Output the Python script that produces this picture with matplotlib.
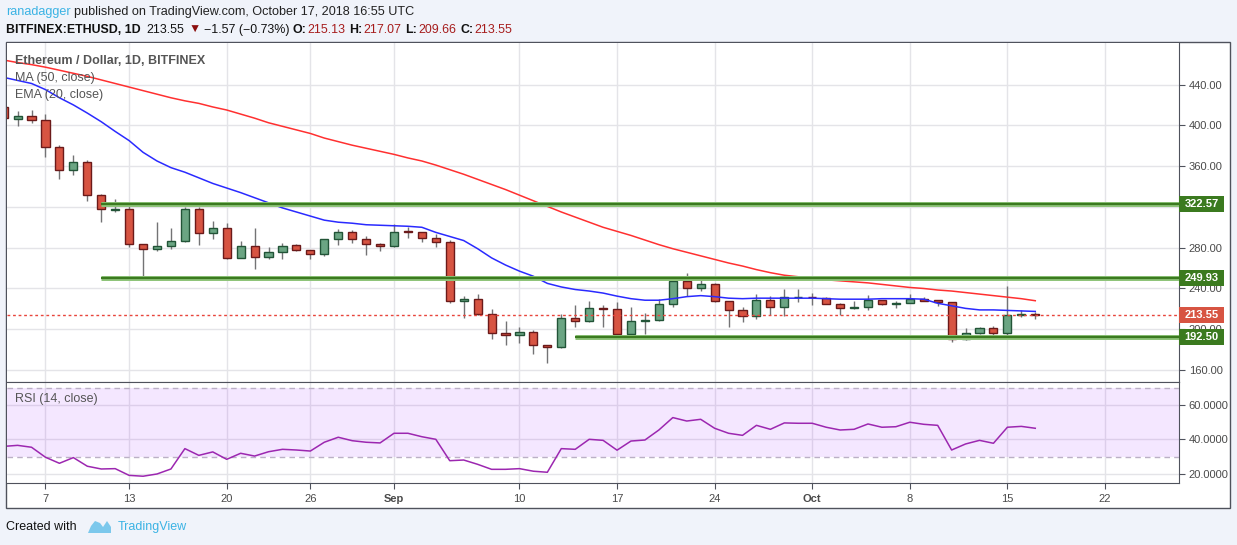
import numpy as np
import pandas as pd
import matplotlib
matplotlib.use("Agg")
import matplotlib.pyplot as plt
import matplotlib.dates as mdates
from matplotlib.patches import Rectangle, Polygon
from matplotlib.transforms import blended_transform_factory

plt.rcParams['font.family'] = ['Liberation Sans', 'DejaVu Sans']

W, H = 1237, 545

# --- data (Aug 4 .. Oct 17 2018, daily) ---
dates = pd.date_range("2018-08-04", "2018-10-17", freq="D")

opens = [418.2, 406.5, 408.8, 404.9, 378.4, 355.9, 363.7, 331.4, 317.2, 318.0,
         283.3, 278.4, 281.4, 286.3, 317.6, 294.1, 299.0, 270.2, 281.4, 270.6,
         275.5, 282.3, 277.5, 274.1, 288.2, 295.1, 288.2, 283.9, 281.4, 295.6,
         295.1, 289.2, 285.3, 227.5, 229.4, 214.7, 196.1, 194.7, 197.4, 184.3,
         182.4, 210.8, 207.8, 220.8, 220.2, 195.1, 207.8, 208.8, 224.5, 247.1,
         240.2, 244.1, 227.5, 218.6, 213.3, 228.4, 221.6, 231.2, 231.8, 231.0,
         225.1, 220.6, 221.6, 228.4, 224.5, 225.8, 229.4, 228.4, 226.5, 190.2,
         196.1, 201.0, 196.1, 213.7, 215.13]
highs = [420.5, 414.0, 415.0, 411.1, 380.4, 370.6, 365.7, 332.6, 327.5, 323.1,
         283.8, 305.2, 299.3, 319.6, 320.2, 305.9, 303.9, 286.3, 299.0, 280.4,
         284.3, 283.2, 278.0, 289.0, 298.3, 297.4, 291.5, 284.5, 303.2, 300.3,
         295.6, 293.4, 287.5, 232.4, 234.3, 219.9, 207.8, 202.3, 199.3, 184.6,
         215.0, 223.8, 227.7, 223.8, 226.5, 221.9, 215.7, 229.7, 252.3, 255.5,
         249.0, 245.1, 228.0, 222.2, 234.3, 232.9, 239.2, 239.2, 235.6, 231.5,
         225.5, 227.5, 233.3, 228.8, 227.5, 234.3, 231.4, 228.8, 227.0, 201.3,
         202.3, 203.2, 242.5, 218.9, 217.07]
lows = [405.0, 399.6, 402.0, 369.2, 347.1, 351.6, 326.1, 305.5, 314.7, 281.0,
        250.0, 277.1, 278.4, 285.8, 282.4, 288.5, 269.2, 269.6, 259.4, 268.6,
        269.2, 276.5, 269.2, 271.9, 282.9, 284.9, 273.1, 277.1, 280.9, 289.8,
        285.9, 281.0, 226.1, 211.4, 214.0, 190.2, 184.9, 186.9, 176.1, 167.3,
        182.0, 202.5, 207.3, 202.5, 192.7, 194.8, 195.7, 208.3, 221.6, 233.0,
        237.3, 227.0, 202.5, 207.5, 210.4, 214.3, 212.7, 226.5, 224.1, 224.8,
        214.3, 220.0, 219.2, 223.5, 220.6, 225.3, 227.5, 223.1, 187.8, 189.5,
        195.5, 193.7, 194.7, 211.8, 209.66]
closes = [406.9, 408.8, 404.9, 378.4, 355.9, 363.7, 331.4, 317.6, 318.0, 283.3,
          278.4, 281.4, 286.3, 317.6, 294.1, 299.0, 270.2, 281.4, 270.6, 275.5,
          281.4, 277.5, 274.1, 288.2, 295.1, 288.2, 283.9, 281.4, 295.1, 295.1,
          289.2, 285.3, 227.5, 229.4, 214.7, 196.1, 194.7, 197.4, 184.3, 182.4,
          210.8, 207.8, 220.6, 220.2, 195.1, 207.8, 208.8, 224.5, 247.1, 240.2,
          244.1, 227.5, 218.6, 213.3, 228.4, 221.6, 231.4, 231.8, 231.2, 225.1,
          220.6, 221.6, 228.7, 224.5, 225.8, 229.4, 228.0, 226.5, 190.2, 196.1,
          201.0, 196.1, 213.7, 215.1, 213.55]

ma50 = [464.0, 461.5, 459.5, 457.0, 454.0, 451.0, 448.0, 444.5, 441.0, 437.5,
        434.0, 430.5, 427.0, 424.0, 421.5, 418.0, 415.0, 411.0, 407.0, 402.5,
        399.0, 395.5, 392.0, 387.5, 384.0, 380.5, 377.5, 374.5, 371.5, 368.0,
        365.0, 361.0, 356.5, 352.0, 347.0, 342.0, 337.0, 331.5, 326.0, 320.5,
        315.0, 310.0, 305.0, 300.0, 296.0, 292.0, 287.5, 283.0, 279.0, 275.5,
        272.0, 268.5, 265.0, 262.0, 258.5, 255.5, 253.0, 251.5, 249.5, 248.5,
        247.5, 246.5, 245.5, 244.0, 242.5, 241.0, 240.0, 238.5, 237.5, 236.0,
        234.5, 233.0, 231.5, 230.0, 228.0]
ema20 = [447.0, 444.0, 441.0, 435.0, 427.0, 420.0, 412.0, 403.5, 394.0, 385.0,
         373.5, 365.0, 358.5, 354.0, 348.5, 343.0, 338.5, 334.0, 329.0, 324.0,
         319.0, 315.0, 311.0, 307.0, 305.0, 304.0, 302.5, 302.0, 301.5, 301.0,
         300.0, 295.0, 291.0, 287.0, 279.0, 270.0, 263.0, 257.0, 252.0, 245.0,
         241.5, 239.0, 237.5, 235.5, 232.5, 230.0, 228.5, 228.5, 230.0, 232.0,
         233.0, 232.0, 230.5, 230.0, 230.5, 230.5, 230.5, 230.5, 230.5, 230.0,
         229.5, 229.5, 229.5, 230.0, 230.0, 230.0, 229.5, 225.5, 223.0, 220.5,
         219.0, 219.0, 218.5, 218.0, 217.5]
rsi = [36.0, 36.6, 35.5, 29.7, 26.2, 29.5, 24.5, 22.9, 23.1, 19.2,
       18.7, 20.0, 22.9, 34.7, 30.8, 32.8, 28.5, 32.0, 30.4, 32.9,
       34.3, 33.9, 33.3, 38.4, 41.3, 39.3, 38.4, 38.0, 43.6, 43.6,
       41.6, 40.1, 27.7, 28.1, 25.6, 22.7, 22.7, 23.1, 21.6, 21.0,
       34.7, 34.3, 40.1, 39.5, 33.8, 39.1, 39.7, 45.5, 52.7, 50.7,
       51.7, 46.5, 43.6, 42.4, 48.2, 45.9, 49.6, 49.4, 49.4, 47.1,
       45.5, 45.9, 49.0, 47.1, 47.4, 50.0, 48.8, 48.2, 33.9, 37.4,
       39.5, 37.8, 47.1, 47.6, 46.5]

levels = [322.57, 249.93, 192.50]
level_starts = ["2018-08-11", "2018-08-11", "2018-09-14"]
last_price = 213.55

tick_dates = ["2018-08-07", "2018-08-13", "2018-08-20", "2018-08-26", "2018-09-01",
              "2018-09-10", "2018-09-17", "2018-09-24", "2018-10-01", "2018-10-08",
              "2018-10-15", "2018-10-22"]
tick_labels = ["7", "13", "20", "26", "Sep", "10", "17", "24", "Oct", "8", "15", "22"]
price_ticks = [160, 200, 240, 280, 320, 360, 400, 440]
hidden_price_ticks = [320]   # fully covered by the 322.57 label in the original
rsi_ticks = [20, 40, 60]

# --- helpers: pixel -> figure fraction ---
def fx(px):
    return px / W

def fy(py):
    return 1 - py / H

FRAME = '#4f525c'
GRID = '#e4e4e8'
TXT = '#4a4a4a'

fig = plt.figure(figsize=(W / 100, H / 100), dpi=100, facecolor='#f0f3fa')
fig.patches.append(Rectangle((fx(6), fy(508)), fx(1230) - fx(6), fy(42) - fy(508),
                             transform=fig.transFigure, facecolor='white',
                             edgecolor=FRAME, lw=1, zorder=-1))

ax1 = fig.add_axes([fx(7), fy(381.7), fx(1179) - fx(7), fy(43) - fy(381.7)])
ax2 = fig.add_axes([fx(7), fy(483.3), fx(1179) - fx(7), fy(381.7) - fy(483.3)], sharex=ax1)

x = mdates.date2num(dates)
base = mdates.date2num(pd.Timestamp("2018-08-07"))
o = np.array(opens); c = np.array(closes)
h = np.array(highs); l = np.array(lows)
up = c >= o

# --- price panel ---
ax1.vlines(x, l, h, color='#737375', lw=1, zorder=3)
body_b = np.minimum(o, c)
body_h = np.maximum(np.abs(c - o), 0.8)
ax1.bar(x, body_h, bottom=body_b, width=0.58,
        color=np.where(up, '#6ba583', '#d75442'),
        edgecolor=np.where(up, '#225437', '#6b1a1a'), linewidth=1, zorder=4)

ax1.plot(x, ma50, color='#ff3030', lw=1.1, zorder=5)
ax1.plot(x, ema20, color='#2a2aff', lw=1.1, zorder=5)

xmax = base + 81.31
for lv, st in zip(levels, level_starts):
    xs = mdates.date2num(pd.Timestamp(st))
    ax1.hlines(lv, xs, xmax, color='#8fc47a', lw=3.6, zorder=6)
    ax1.hlines(lv, xs, xmax, color='#3b7a1f', lw=1.6, zorder=6)

ax1.axhline(last_price, color='#e8453c', lw=1, ls=(0, (2, 2)), zorder=6)

ax1.set_xlim(base - 2.76, xmax)
ax1.set_ylim(148.6, 480.7)
ax1.yaxis.tick_right()
ax1.set_yticks(price_ticks)
ax1.set_yticklabels(["" if v in hidden_price_ticks else f"{v:.2f}" for v in price_ticks])
ax1.set_xticks(mdates.date2num(pd.to_datetime(tick_dates)))
ax1.tick_params(axis='x', length=0, labelbottom=False)
ax1.tick_params(axis='y', colors=FRAME, labelcolor=TXT, labelsize=8, length=4, pad=3)
ax1.grid(True, color=GRID, lw=1)
ax1.set_axisbelow(True)
for s in ['top', 'left']:
    ax1.spines[s].set_visible(False)
for s in ['right', 'bottom']:
    ax1.spines[s].set_color(FRAME)

# axis labels for the levels
tr = blended_transform_factory(ax1.transAxes, ax1.transData)
bw = 45 / 1172
bh = 16 / 1.02
for lv, col in zip(levels + [last_price], ['#3b7a1f'] * 3 + ['#d75442']):
    ax1.add_patch(Rectangle((1.0, lv - bh / 2), bw, bh, transform=tr, facecolor=col,
                            edgecolor='none', clip_on=False, zorder=10))
    ax1.text(1.0 + bw / 2, lv, f"{lv:.2f}", transform=tr, ha='center', va='center',
             color='white', fontsize=8, fontweight='bold', clip_on=False, zorder=11)

# --- RSI panel ---
ax2.plot(x, rsi, color='#9c27b0', lw=1.1, zorder=5)
ax2.axhspan(30, 70, color='#9915ff', alpha=0.1, lw=0, zorder=2)
for lv in [70, 30]:
    ax2.axhline(lv, color='#bbb0c6', lw=1, ls=(0, (4, 3)), zorder=3)
ax2.set_ylim(14.6, 73.5)
ax2.yaxis.tick_right()
ax2.set_yticks(rsi_ticks)
ax2.set_yticklabels([f"{v:.4f}" for v in rsi_ticks])
ax2.set_xticks(mdates.date2num(pd.to_datetime(tick_dates)))
ax2.set_xticklabels(tick_labels)
for t in ax2.get_xticklabels():
    if t.get_text() in ("Sep", "Oct"):
        t.set_fontweight('bold')
ax2.tick_params(axis='y', colors=FRAME, labelcolor=TXT, labelsize=8, length=4, pad=3)
ax2.tick_params(axis='x', colors=FRAME, labelcolor=TXT, labelsize=8, length=4, pad=4)
ax2.grid(True, color=GRID, lw=1)
ax2.set_axisbelow(True)
ax2.spines['left'].set_visible(False)
for s in ['top', 'right', 'bottom']:
    ax2.spines[s].set_color(FRAME)

# --- texts ---
fig.text(fx(15), fy(61), "Ethereum / Dollar, 1D, BITFINEX", color='#555555',
         fontsize=9, fontweight='bold', va='center')
fig.text(fx(15), fy(78), "MA (50, close)", color='#555555', fontsize=9, va='center')
fig.text(fx(15), fy(95), "EMA (20, close)", color='#555555', fontsize=9, va='center')
fig.text(fx(15), fy(399), "RSI (14, close)", color='#555555', fontsize=9, va='center')

renderer = fig.canvas.get_renderer()

def chain(parts, y, size):
    # lay text segments side by side: (text, colour, weight, gap before)
    px = 6
    for s, col, wt, gap in parts:
        px += gap
        t = fig.text(fx(px), fy(y), s, color=col, fontsize=size, fontweight=wt, va='center')
        px = t.get_window_extent(renderer).x1

DR = '#a61c1c'
BK = '#111111'
chain([("ranadagger", '#3bb3e4', 'normal', 0),
       ("published on TradingView.com, October 17, 2018 16:55 UTC", '#222222', 'normal', 3)],
      12, 9.1)
chain([("BITFINEX:ETHUSD, 1D", BK, 'bold', 0),
       ("213.55", BK, 'normal', 6),
       ("\u25bc", '#8b0e0e', 'normal', 4),
       ("\u22121.57 (\u22120.73%)", BK, 'normal', 3),
       ("O:", BK, 'bold', 3), ("215.13", DR, 'normal', 1),
       ("H:", BK, 'bold', 4), ("217.07", DR, 'normal', 1),
       ("L:", BK, 'bold', 4), ("209.66", DR, 'normal', 1),
       ("C:", BK, 'bold', 4), ("213.55", DR, 'normal', 1)],
      30, 8.9)

fig.text(fx(6), fy(527), "Created with", color=BK, fontsize=9, va='center')
fig.text(fx(118), fy(527), "TradingView", color='#3bb3e4', fontsize=9, va='center')
logo = [(88, 533), (91, 526), (95, 521), (100, 523), (103, 527), (107, 521),
        (111, 527), (111, 533)]
fig.patches.append(Polygon([(fx(a), fy(b)) for a, b in logo], closed=True,
                           transform=fig.transFigure, facecolor='#7cc8ec',
                           edgecolor='none', zorder=2))
zig = [(91, 532), (96, 526), (101, 531), (106, 525), (110, 530)]
fig.lines.append(plt.Line2D([fx(a) for a, b in zig], [fy(b) for a, b in zig],
                            transform=fig.transFigure, color='white', lw=1.4))

fig.savefig("out.png", dpi=100, facecolor=fig.get_facecolor())
